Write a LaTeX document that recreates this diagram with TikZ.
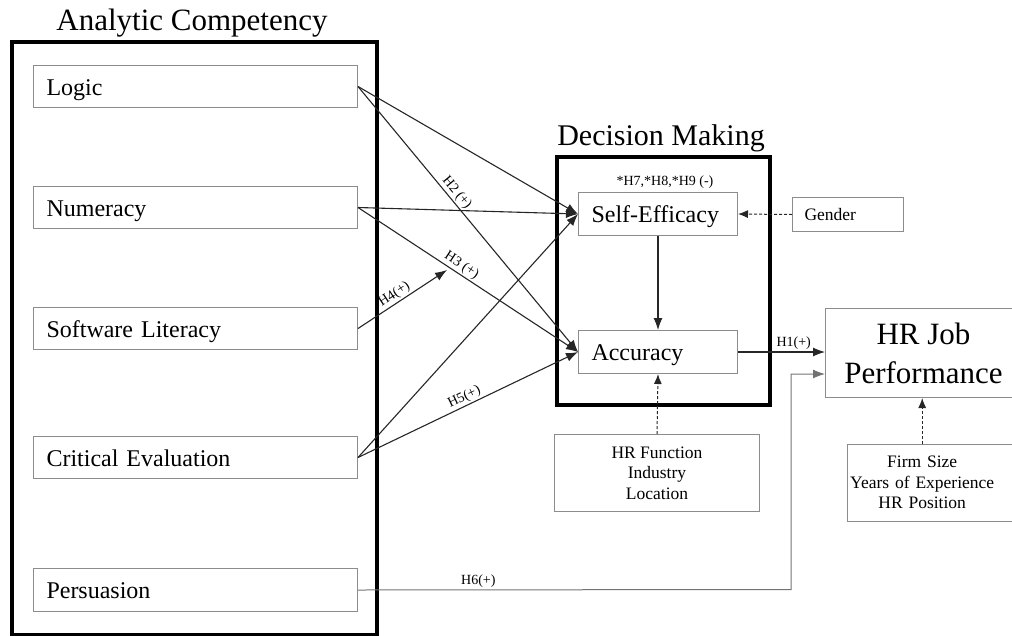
\documentclass[tikz,border=0pt]{standalone}
\usepackage{fontspec}
\setmainfont{Liberation Serif}
\usetikzlibrary{arrows.meta}
\begin{document}
\begin{tikzpicture}[x=1pt,y=-1pt,
  frame/.style={draw=black,line width=4pt,anchor=north west,inner sep=0pt},
  title/.style={anchor=base,inner sep=0pt,font=\fontsize{31}{36}\selectfont},
  vbox/.style={draw=black!45,line width=1pt,anchor=north west,inner ysep=0pt,inner xsep=13pt,
    align=left,text height=17pt,text depth=0pt,font=\fontsize{24}{28}\selectfont},
  cbox/.style={draw=black!45,line width=1pt,anchor=north west,inner sep=0pt,align=center,
    font=\fontsize{17.5}{20.5}\selectfont},
  boxline/.style={draw=black!45,line width=1pt},
  lab/.style={inner sep=1.5pt,font=\fontsize{14}{16}\selectfont},
  conn/.style={draw=black!85,line width=1.1pt,-{Latex[length=12pt,width=9pt]}},
  dconn/.style={draw=black!85,line width=1pt,dashed,dash pattern=on 3pt off 2pt,-{Latex[length=10pt,width=8pt]}},
  gconn/.style={draw=black!55,line width=1pt,-{Latex[length=12pt,width=9pt]}}]
\clip (0,0) rectangle (1012,635);
% titles
\node[title] (actitle) at (192,30) {Analytic Competency};
\node[title,font=\fontsize{30}{35}\selectfont] (dmtitle) at (661,145) {Decision Making};
% frames
\node[frame,minimum width=365pt,minimum height=593pt] (acframe) at (10,40) {};
\node[frame,minimum width=213pt,minimum height=248pt] (dmframe) at (555,155) {};
% left boxes
\node[vbox,text width=298pt,minimum height=42pt] (logic) at (33,65) {Logic};
\node[vbox,text width=298pt,minimum height=42pt] (numeracy) at (33,186) {Numeracy};
\node[vbox,text width=298pt,minimum height=42pt] (software) at (33,307) {Software Literacy};
\node[vbox,text width=298pt,minimum height=42pt] (critical) at (33,436) {Critical Evaluation};
\node[vbox,text width=298pt,minimum height=43pt] (persuasion) at (33,568) {Persuasion};
% decision making boxes
\node[vbox,inner xsep=13pt,text width=133pt,minimum height=43pt] (se) at (578,192) {\mbox{Self-Efficacy}};
\node[vbox,inner xsep=13pt,text width=133pt,minimum height=43pt] (acc) at (578,330) {Accuracy};
\node[anchor=base,inner sep=0pt,font=\fontsize{14}{16}\selectfont] (hlab) at (665,185) {*H7,*H8,*H9 (-)};
% controls
\node[vbox,inner xsep=12pt,text width=87pt,minimum height=34pt,text height=12pt,
      font=\fontsize{17.5}{20}\selectfont] (gender) at (792,197) {Gender};
\node[cbox,minimum width=205pt,minimum height=77pt] (hrf) at (554,434) {HR Function\\Industry\\Location};
% HR job performance
\node[cbox,minimum width=196pt,minimum height=89pt,font=\fontsize{31}{39}\selectfont] (hrjp) at (825,308) {HR Job\\Performance};
\node[anchor=north west,inner sep=0pt,text width=150pt,align=center,minimum height=77pt,
      font=\fontsize{17.5}{20.5}\selectfont] (fs) at (847,444) {Firm Size\\Years of Experience\\HR Position};
\draw[boxline] ([xshift=180pt]fs.north west) -- (fs.north west) -- (fs.south west) -- ([xshift=180pt]fs.south west);
% connectors
\draw[conn] (logic.east) -- (se.west);
\draw[conn] (logic.east) -- node[lab,pos=0.42,sloped,above]{H2 (+)} (acc.west);
\draw[conn] (numeracy.east) -- (se.west);
\draw[conn] (numeracy.east) -- node[lab,pos=0.45,sloped,above]{H3 (+)} (acc.west);
\coordinate (h4tip) at (447,270);
\draw[conn] (software.east) -- node[lab,pos=0.46,sloped,above]{H4(+)} (h4tip);
\draw[conn] (critical.east) -- (se.west);
\draw[conn] (critical.east) -- node[lab,pos=0.5,sloped,above]{H5(+)} (acc.west);
\draw[conn] (se.south) -- (acc.north);
\draw[conn] (acc.east) -- node[lab,pos=0.64,above]{H1(+)} (acc.east -| hrjp.west);
\coordinate (h6in) at (825,374);
\draw[gconn] (persuasion.east) -- node[lab,pos=0.278,above,text=black]{H6(+)} (791,589.5) -- (791,374) -- (h6in);
\draw[dconn] (gender.west) -- (se.east);
\draw[dconn] (hrf.north) -- (acc.south);
\draw[dconn] (fs.north) -- (fs.north |- hrjp.south);
\end{tikzpicture}
\end{document}
